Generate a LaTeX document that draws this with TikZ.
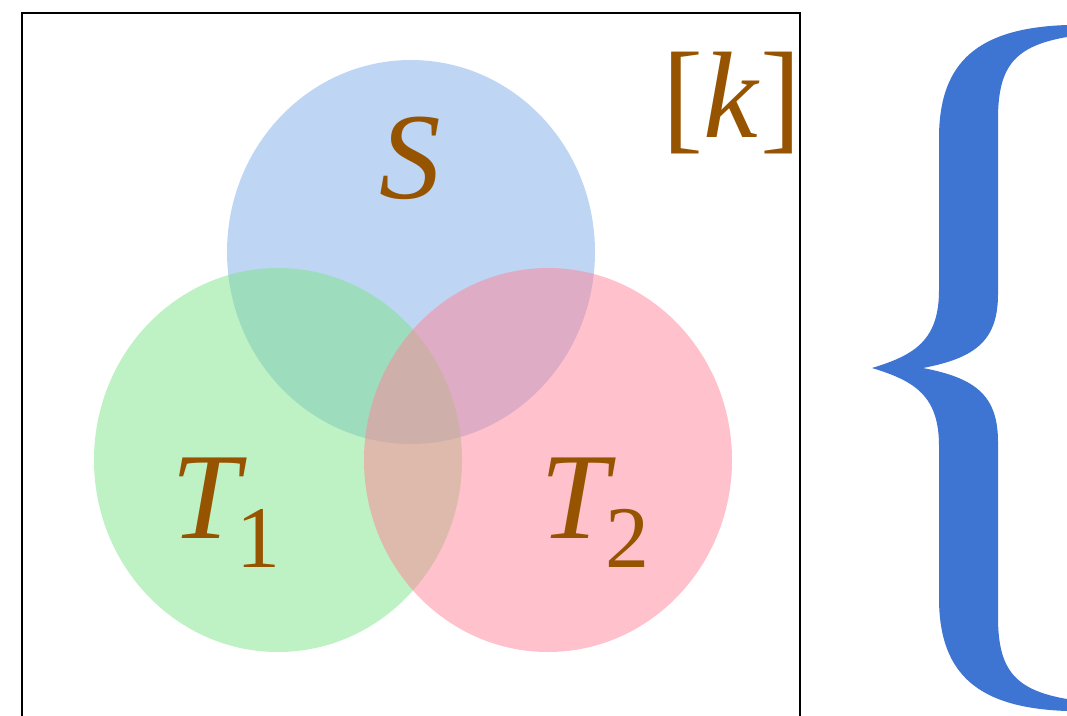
\documentclass[tikz,border=0pt]{standalone}
\usepackage{fontspec}
\setmainfont{Liberation Serif}
\usepackage{xcolor}
\usetikzlibrary{positioning}

\definecolor{setblue}{RGB}{125,173,233}
\definecolor{setgreen}{RGB}{125,229,137}
\definecolor{setpink}{RGB}{255,131,151}
\definecolor{labbrown}{RGB}{150,84,0}
\definecolor{braceblue}{RGB}{62,116,210}

\newcommand{\lowidx}[1]{\kern-0.09em\raisebox{-0.24em}{\fontsize{25}{25}\selectfont #1}}

\begin{document}
\begin{tikzpicture}[x=0.01cm, y=-0.01cm,
  setfill/.style={fill=#1, fill opacity=0.5, draw=none},
  lab/.style={text=labbrown, font=\fontsize{35}{35}\selectfont, inner sep=0pt, anchor=base}
]
\useasboundingbox (0,0) rectangle (1067,715);
\clip (0,0) rectangle (1067,715);

\draw[line width=0.7pt] (22,13) rectangle (800,740);

\fill[setfill=setblue] (411,252) ellipse [x radius=184, y radius=192];
\fill[setfill=setgreen] (278,460) ellipse [x radius=184, y radius=192];
\fill[setfill=setpink] (548,460) ellipse [x radius=184, y radius=192];

\node[lab] (s) at (410,198) {\textit{S}};
\node[lab] (t1) at (226,538) {\textit{T}\lowidx{1}};
\node[lab] (t2) at (595,538) {\textit{T}\lowidx{2}};
\node[lab] (k) at (732,137) {[\textit{k}]};

% brace
\fill[braceblue] (1067,25) .. controls (980,28) and (939,60) .. (939,138)
  -- (939,290) .. controls (939,340) and (915,355) .. (872,368)
  .. controls (915,381) and (939,396) .. (939,446)
  -- (939,598) .. controls (939,676) and (980,708) .. (1067,711)
  -- (1067,699) .. controls (1015,690) and (998,670) .. (998,617)
  -- (998,442) .. controls (998,395) and (975,378) .. (923,368)
  .. controls (975,358) and (998,341) .. (998,294)
  -- (998,119) .. controls (998,66) and (1015,46) .. (1067,37) -- cycle;
\end{tikzpicture}
\end{document}
